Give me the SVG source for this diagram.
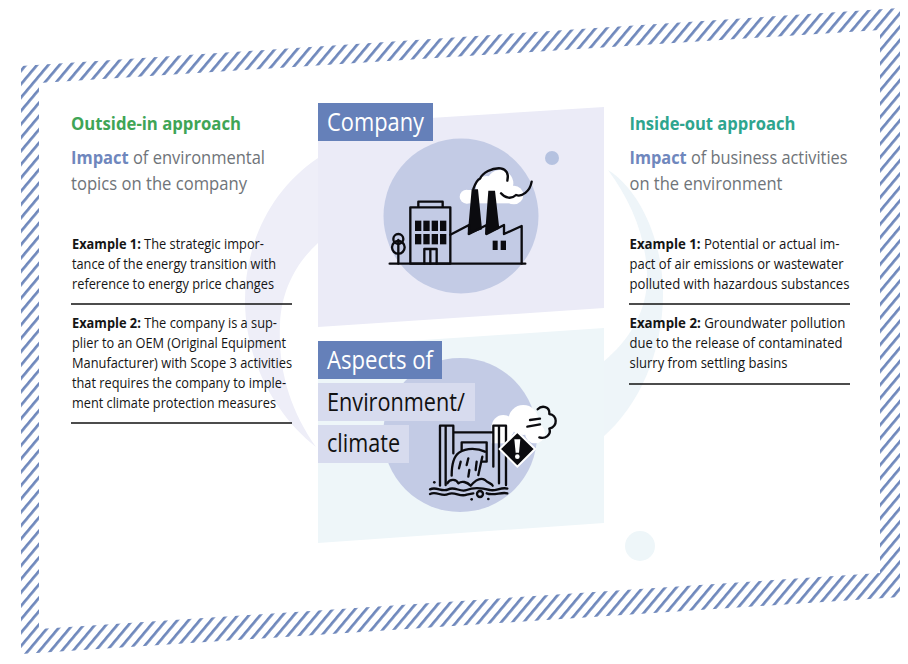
<svg xmlns="http://www.w3.org/2000/svg" width="908" height="664" viewBox="0 0 908 664">
<style>
text{font-family:"Open Sans","Noto Sans","Liberation Sans",sans-serif}
.h{font-size:18px;font-weight:700}
.s{font-size:18px;fill:#6f7479}
.blue{font-weight:700;fill:#6f87bd}
.e{font-size:13.6px;fill:#151515}
.eb{font-weight:700}
.rule{stroke:#111;stroke-width:1.3}
.lab{font-size:26px}
.ink{fill:none;stroke:#0b0b0f;stroke-width:7;stroke-linecap:round;stroke-linejoin:round}
.solid{fill:#0b0b0f}
</style>
<defs>
<pattern id="hatch" patternUnits="userSpaceOnUse" width="8.6" height="8.6" patternTransform="rotate(40)">
<rect x="0" y="0" width="2.7" height="8.6" fill="#6f88bc"/>
</pattern>
</defs>
<rect width="908" height="664" fill="#fff"/>
<path id="frame" fill="url(#hatch)" fill-rule="evenodd" d="M21,66 L900,8 L900,597 L21,654 Z M39,83 L880,30 L880,573 L39,629 Z"/>
<path id="arc-left" fill="#eeeef8" d="M318,158 C270,190 245,245 245,300 C245,360 275,415 316,447 C290,410 278,370 280,325 C281,290 297,262 318,243 Z"/>
<path id="arc-right" fill="#eef5f9" d="M608,170 C640,190 662,240 663,290 C664,350 640,405 603,437 L603,362 C630,340 648,310 647,275 C646,235 630,200 608,170 Z"/>
<g id="company">
<path fill="#ebebf7" d="M318,125 L604,107 L604,308 L318,327 Z"/>
<circle cx="461" cy="216" r="77.5" fill="#c3cbe5"/>
<circle cx="552" cy="158" r="7" fill="#b5c2e0"/>
<g transform="translate(310,90) scale(.33333)">
<g fill="#fff"><circle cx="470" cy="320" r="21"/><circle cx="530" cy="290" r="32"/><circle cx="570" cy="280" r="40"/><circle cx="612" cy="315" r="28"/><rect x="470" y="300" width="140" height="40"/></g>
<path class="ink" d="M490,297 C495,283 500,270 510,266 C518,248 545,233 572,235 C590,238 597,252 592,272"/>
<path class="ink" d="M573,310 C585,325 605,328 618,315 C635,322 660,305 665,275"/>
<path class="solid" d="M485,298 L504,298 L516,418 L473,434 Z M535,302 L555,302 L568,416 L525,434 Z"/>
<path class="ink" d="M421,434 L477,405 L477,432 L530,405 L530,432 L582,405 L582,432 L635,408 L635,521"/>
<rect class="ink" x="301" y="352" width="120" height="169"/>
<path class="ink" d="M325,350 L325,335 L398,335 L398,350"/>
<g class="solid"><rect x="315" y="392" width="19" height="31"/><rect x="340" y="392" width="19" height="31"/><rect x="365" y="392" width="19" height="31"/><rect x="390" y="392" width="19" height="31"/><rect x="315" y="432" width="19" height="31"/><rect x="340" y="432" width="19" height="31"/><rect x="365" y="432" width="19" height="31"/><rect x="390" y="432" width="19" height="31"/><rect x="548" y="452" width="15" height="28"/><rect x="572" y="452" width="16" height="28"/></g>
<path class="ink" d="M343,521 L343,477 L380,477 L380,521 M361,477 L361,521"/>
<circle class="ink" cx="265" cy="447" r="15"/><circle class="ink" cx="265" cy="472" r="19"/>
<path class="ink" d="M265,450 L265,521"/>
<path class="ink" d="M239,521 L646,521"/>
</g>
<rect x="318" y="103" width="115" height="38" fill="#6580b9"/>
<text class="lab" x="327" y="131" fill="#fff" textLength="97" lengthAdjust="spacingAndGlyphs">Company</text>
</g>
<g id="environment">
<path fill="#eef6f9" d="M318,347 L604,328 L604,523 L318,543 Z"/>
<circle cx="460" cy="435" r="77" fill="#c3cbe5"/>
<circle cx="640" cy="546" r="15" fill="#eef6f9"/>
<rect x="318" y="341" width="124" height="38" fill="#6580b9"/>
<rect x="318" y="383" width="157" height="38" fill="#d7dbee"/>
<rect x="318" y="425" width="91" height="38" fill="#d7dbee"/>
<text class="lab" x="327" y="369" fill="#fff" textLength="106" lengthAdjust="spacingAndGlyphs">Aspects of</text>
<text class="lab" x="327" y="411" fill="#111" textLength="138" lengthAdjust="spacingAndGlyphs">Environment/</text>
<text class="lab" x="327" y="452" fill="#111" textLength="73" lengthAdjust="spacingAndGlyphs">climate</text>
<g transform="translate(310,320) scale(.33333)">
<g fill="#fff"><circle cx="580" cy="320" r="35"/><circle cx="640" cy="300" r="45"/><circle cx="675" cy="340" r="30"/><rect x="545" y="315" width="60" height="55"/></g>
<path class="ink" d="M683,268 C695,255 720,258 718,282 C742,285 745,318 718,326 C725,345 705,358 688,352"/>
<path class="ink" d="M652,320 L690,313 M660,300 L690,296"/>
<path class="ink" d="M390,497 L390,317 L430,317 L430,400 M407,317 L407,495 M430,337 L550,337 M550,317 L588,317 L588,495 M550,317 L550,440 M567,317 L567,490"/>
<path class="ink" d="M455,390 L455,367 L530,367 L530,425 L517,425"/>
<path class="ink" d="M425,467 C425,435 430,410 447,398 C470,382 505,385 525,395 M517,410 L505,465 M452,425 L447,445 M475,415 L470,435 M478,450 L475,470 M500,425 L497,450"/>
<path class="ink" d="M412,490 C420,475 440,478 445,490 C455,482 470,485 482,497 C495,482 510,470 525,480 C535,490 545,490 548,497"/>
<path class="ink" d="M360,508 C380,498 395,518 415,508 C435,498 450,518 470,510 C490,502 520,505 540,510 C555,515 575,500 592,506"/>
<path class="ink" d="M360,522 C380,512 395,532 415,522 C435,514 450,532 470,524 L490,520 M530,520 C550,528 575,515 592,520"/>
<circle class="ink" cx="510" cy="522" r="9"/>
<g class="solid"><circle cx="373" cy="487" r="4"/><circle cx="485" cy="538" r="4"/><circle cx="535" cy="537" r="4"/></g>
<path fill="#0b0b0f" stroke="#fff" stroke-width="6" d="M622,335 L675,387 L622,440 L569,387 Z"/>
<path fill="#fff" d="M613,358 L631,358 L627,398 L617,398 Z"/><circle cx="622" cy="410" r="7" fill="#fff"/>
</g>
</g>
<g id="outside-in">
<text class="h" x="71" y="130" fill="#3fa556" textLength="170" lengthAdjust="spacingAndGlyphs">Outside-in approach</text>
<text class="s" x="71" y="164" textLength="194" lengthAdjust="spacingAndGlyphs"><tspan class="blue">Impact</tspan> of environmental</text>
<text class="s" x="71" y="190" textLength="176" lengthAdjust="spacingAndGlyphs">topics on the company</text>
<text class="e" x="72" y="249" textLength="192" lengthAdjust="spacingAndGlyphs"><tspan class="eb">Example 1:</tspan> The strategic impor-</text>
<text class="e" x="72" y="269" textLength="204" lengthAdjust="spacingAndGlyphs">tance of the energy transition with</text>
<text class="e" x="72" y="289" textLength="202" lengthAdjust="spacingAndGlyphs">reference to energy price changes</text>
<path class="rule" d="M71,304 L292,304"/>
<text class="e" x="72" y="328" textLength="205" lengthAdjust="spacingAndGlyphs"><tspan class="eb">Example 2:</tspan> The company is a sup-</text>
<text class="e" x="72" y="348" textLength="214" lengthAdjust="spacingAndGlyphs">plier to an OEM (Original Equipment</text>
<text class="e" x="72" y="368" textLength="220" lengthAdjust="spacingAndGlyphs">Manufacturer) with Scope 3 activities</text>
<text class="e" x="72" y="388" textLength="214" lengthAdjust="spacingAndGlyphs">that requires the company to imple-</text>
<text class="e" x="72" y="408" textLength="204" lengthAdjust="spacingAndGlyphs">ment climate protection measures</text>
<path class="rule" d="M71,423 L292,423"/>
</g>
<g id="inside-out">
<text class="h" x="629.5" y="130" fill="#2ea58e" textLength="166" lengthAdjust="spacingAndGlyphs">Inside-out approach</text>
<text class="s" x="629.5" y="164" textLength="218" lengthAdjust="spacingAndGlyphs"><tspan class="blue">Impact</tspan> of business activities</text>
<text class="s" x="629.5" y="190" textLength="153" lengthAdjust="spacingAndGlyphs">on the environment</text>
<text class="e" x="629.5" y="249" textLength="210" lengthAdjust="spacingAndGlyphs"><tspan class="eb">Example 1:</tspan> Potential or actual im-</text>
<text class="e" x="629.5" y="269" textLength="214" lengthAdjust="spacingAndGlyphs">pact of air emissions or wastewater</text>
<text class="e" x="629.5" y="289" textLength="220" lengthAdjust="spacingAndGlyphs">polluted with hazardous substances</text>
<path class="rule" d="M629,304 L850,304"/>
<text class="e" x="629.5" y="328" textLength="216" lengthAdjust="spacingAndGlyphs"><tspan class="eb">Example 2:</tspan> Groundwater pollution</text>
<text class="e" x="629.5" y="348" textLength="213" lengthAdjust="spacingAndGlyphs">due to the release of contaminated</text>
<text class="e" x="629.5" y="368" textLength="158" lengthAdjust="spacingAndGlyphs">slurry from settling basins</text>
<path class="rule" d="M629,384 L850,384"/>
</g>
</svg>
